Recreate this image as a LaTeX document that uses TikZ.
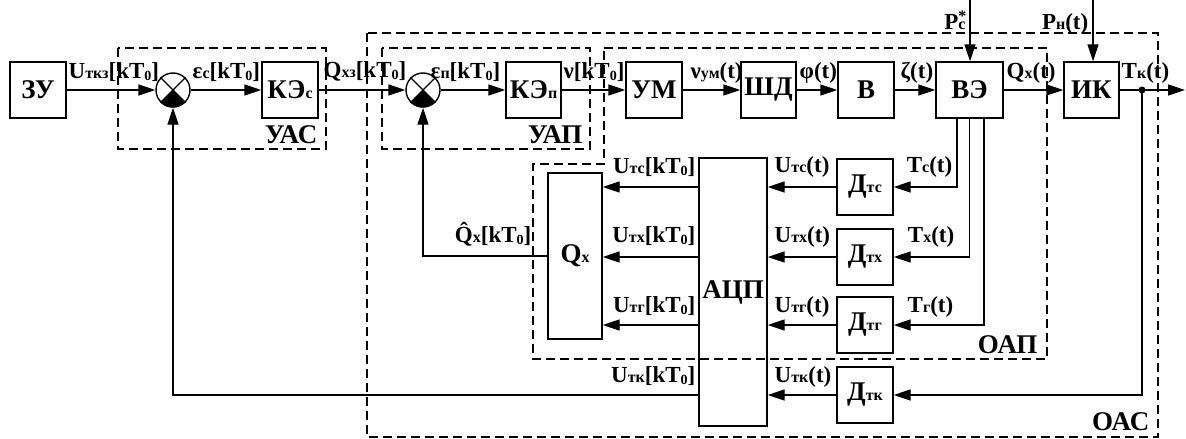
\documentclass[tikz,border=0pt]{standalone}
\usepackage{fontspec}
\setmainfont{Liberation Serif}
\usetikzlibrary{arrows.meta}
\newcommand{\sbs}[1]{{\fontsize{16}{16}\selectfont #1}}
\newcommand{\zsub}{\raisebox{-2pt}{\fontsize{14}{14}\selectfont 0}}
\newcommand{\kT}{[kT\zsub]}
\begin{document}
\begin{tikzpicture}[x=1pt,y=-1pt,line width=1.4pt,
 blk/.style={draw,inner sep=0pt,minimum width=56pt,minimum height=56pt,font=\fontsize{27}{27}\selectfont\bfseries},
 sj/.style={draw,circle,inner sep=0pt,minimum size=34pt},
 arr/.style={-{Triangle[length=17pt,width=11pt]}},
 grp/.style={draw,dash pattern=on 9pt off 5pt,line width=1.2pt},
 lbl/.style={inner sep=0pt,font=\fontsize{23}{23}\selectfont\bfseries},
 glbl/.style={inner sep=0pt,font=\fontsize{27}{27}\selectfont\bfseries}]
\useasboundingbox (0,0) rectangle (1186,439);
% dashed groups
\draw[grp] (118,48) rectangle (326,149);
\draw[grp] (382,48) rectangle (590,149);
\draw[grp] (367,33) rectangle (1158,437);
\draw[grp] (604,48) -- (1047,48) -- (1047,359) -- (533,359) -- (533,164) -- (604,164) -- cycle;
\node[glbl,anchor=base east] (gas) at (318,143) {УАС};
\node[glbl,anchor=base east] (gap) at (583,143) {УАП};
\node[glbl,anchor=base east] (goap) at (1038,353) {ОАП};
\node[glbl,anchor=base east] (goas) at (1150,430) {ОАС};
% blocks
\node[blk] (zu) at (38,90) {ЗУ};
\node[sj] (s1) at (173,90) {};
\node[blk] (kec) at (290,90) {КЭ\sbs{с}};
\node[sj] (s2) at (423,90) {};
\node[blk,minimum width=55pt] (kep) at (533.5,90) {КЭ\sbs{п}};
\node[blk] (um) at (654,90) {УМ};
\node[blk,minimum width=55pt] (shd) at (768.5,90) {ШД};
\node[blk] (v) at (866,90) {В};
\node[blk,minimum width=67pt] (ve) at (969.5,90) {ВЭ};
\node[blk,minimum width=55pt] (ik) at (1091.5,90) {ИК};
\node[blk,minimum width=54pt,minimum height=166pt] (qx) at (575,256) {Q\sbs{x}};
\node[blk,minimum width=68pt,minimum height=268pt] (adc) at (733,292) {\raisebox{5pt}{АЦП}};
\node[blk] (dtc) at (865,187) {Д\sbs{тс}};
\node[blk] (dtx) at (865,257) {Д\sbs{тх}};
\node[blk] (dtg) at (865,325) {Д\sbs{тг}};
\node[blk] (dtk) at (865,395) {Д\sbs{тк}};
% summing junction marks
\foreach \s in {s1,s2}{
  \fill (\s.center) -- (\s.south west) arc[start angle=225,end angle=315,radius=17pt] -- cycle;
  \draw (\s.north west) -- (\s.south east);
  \draw (\s.north east) -- (\s.south west);
}
% coordinates
\coordinate (pc) at (970,0);
\coordinate (pn) at (1093,0);
\coordinate (tk) at (1142,90);
\coordinate (out) at (1185,90);
% main chain
\draw[arr] (zu) -- (s1);
\draw[arr] (s1) -- (kec);
\draw[arr] (kec) -- (s2);
\draw[arr] (s2) -- (kep);
\draw[arr] (kep) -- (um);
\draw[arr] (um) -- (shd);
\draw[arr] (shd) -- (v);
\draw[arr] (v) -- (ve);
\draw[arr] (ve) -- (ik);
\draw[arr] (ik) -- (out);
\draw[arr] (pc) -- (pc |- ve.north);
\draw[arr] (pn) -- (pn |- ik.north);
\fill (tk) circle (3.5pt);
% sensors
\draw[arr] ([xshift=-12.5pt]ve.south) |- (dtc);
\draw[arr] (ve.south) |- (dtx);
\draw[arr] ([xshift=14.5pt]ve.south) |- (dtg);
\draw[arr] (tk) |- (dtk);
\draw[arr] (dtc) -- (adc.east |- dtc);
\draw[arr] (dtx) -- (adc.east |- dtx);
\draw[arr] (dtg) -- (adc.east |- dtg);
\draw[arr] (dtk) -- (adc.east |- dtk);
\draw[arr] (adc.west |- dtc) -- (qx.east |- dtc);
\draw[arr] (adc.west |- dtx) -- (qx.east |- dtx);
\draw[arr] (adc.west |- dtg) -- (qx.east |- dtg);
\draw[arr] (adc.west |- dtk) -| (s1);
\draw[arr] (qx.west) -| (s2);
% labels top row
\node[lbl,anchor=base west] (l1) at (68,78) {U\sbs{ткз}\kT};
\node[lbl,anchor=base west] (l2) at (192,78) {ε\sbs{с}\kT};
\node[lbl,anchor=base west] (l3) at (323,77) {Q\sbs{хз}\kT};
\node[lbl,anchor=base west] (l4) at (430,78) {ε\sbs{п}\kT};
\node[lbl,anchor=base west] (l5) at (563,78) {ν\kT};
\node[lbl,anchor=base west] (l6) at (690,78) {ν\sbs{ум}(t)};
\node[lbl,anchor=base west] (l7) at (799,78) {φ(t)};
\node[lbl,anchor=base west] (l8) at (900,78) {ζ(t)};
\node[lbl,anchor=base west] (l9) at (1006,78) {Q\sbs{x}(t)};
\node[lbl,anchor=base west] (l10) at (1121,78) {T\sbs{к}(t)};
\node[lbl,anchor=base east] (l11) at (967,29) {P\sbs{\ooalign{\hfil\raisebox{8pt}{*}\hfil\cr c}}};
\node[lbl,anchor=base east] (l12) at (1089,29) {P\sbs{н}(t)};
% labels lower
\node[lbl,anchor=base east] (m1) at (696,173) {U\sbs{тс}\kT};
\node[lbl,anchor=base east] (m2) at (696,242) {U\sbs{тх}\kT};
\node[lbl,anchor=base east] (m3) at (696,312) {U\sbs{тг}\kT};
\node[lbl,anchor=base east] (m4) at (696,382) {U\sbs{тк}\kT};
\node[lbl,anchor=base east] (m5) at (532,242) {\^{Q}\sbs{x}\kT};
\node[lbl,anchor=base west] (n1) at (774,172) {U\sbs{тс}(t)};
\node[lbl,anchor=base west] (n2) at (774,242) {U\sbs{тх}(t)};
\node[lbl,anchor=base west] (n3) at (774,312) {U\sbs{тг}(t)};
\node[lbl,anchor=base west] (n4) at (774,382) {U\sbs{тк}(t)};
\node[lbl,anchor=base east] (t1) at (953,172) {T\sbs{с}(t)};
\node[lbl,anchor=base east] (t2) at (955,242) {T\sbs{х}(t)};
\node[lbl,anchor=base east] (t3) at (954,312) {T\sbs{г}(t)};
\end{tikzpicture}
\end{document}
